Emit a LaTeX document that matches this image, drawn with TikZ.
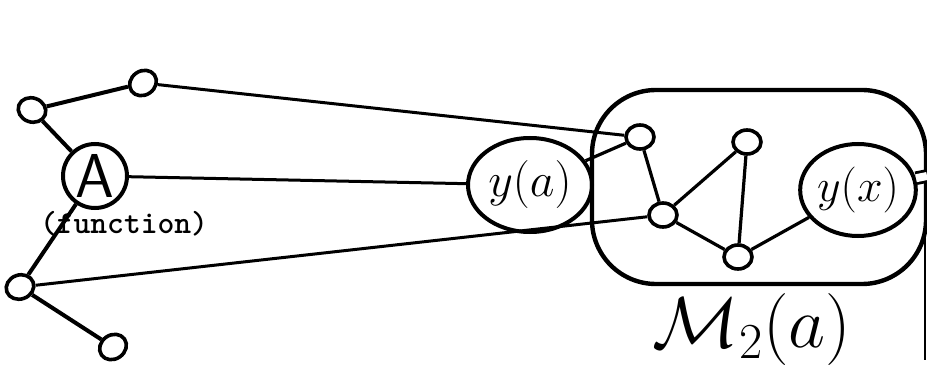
\RequirePackage{fix-cm}
\documentclass[tikz,border=0pt]{standalone}
\usepackage{tikz}
\usetikzlibrary{shapes.geometric}
\tikzset{
  vertex/.style={draw, ellipse, line width=1.8pt, minimum width=14pt, minimum height=12pt, inner sep=0pt},
  bubble/.style={draw, ellipse, line width=2pt, inner sep=0pt, font=\fontsize{24}{24}\selectfont},
  thickedge/.style={line width=2pt},
  longedge/.style={line width=1.5pt},
  inneredge/.style={line width=1.6pt}
}

\begin{document}
\begin{tikzpicture}[x=0.5pt, y=-0.5pt]
    \useasboundingbox (0,0) rectangle (927,369);
    % outer graph around the function node
    \node[vertex, rotate=-20] (n1) at (32,110) {};
    \node[vertex, rotate=35] (n2) at (143,83) {};
    \node[draw, circle, line width=2pt, minimum size=32pt, inner sep=0pt,
      font=\sffamily\fontsize{31}{31}\selectfont] (A) at (95,176) {A};
    \node[font=\ttfamily\bfseries\fontsize{16}{16}\selectfont] (fn) at (124,224) {(function)};
    \node[vertex, rotate=20] (n3) at (20,287) {};
    \node[vertex, rotate=35] (n4) at (113,347) {};
    \draw[thickedge] (n1) -- (n2);
    \draw[thickedge] (n1) -- (A);
    \draw[thickedge] (A) -- (n3);
    \draw[thickedge] (n3) -- (n4);

    % the bounded region
    \draw[line width=2.2pt, rounded corners=32pt] (592,90) rectangle (926,284);
    \node[bubble, minimum width=62pt, minimum height=47pt] (ya) at (530,185) {$y(a)$};
    \node[bubble, minimum width=56pt, minimum height=46pt, font=\fontsize{23}{23}\selectfont] (yx) at (858,190) {$y(x)$};
    \node[vertex] (m1) at (640,137) {};
    \node[vertex] (m2) at (663,215) {};
    \node[vertex] (m3) at (747,142) {};
    \node[vertex] (m4) at (738,257) {};
    \node[font=\fontsize{36}{36}\selectfont] (mlabel) at (752,330) {$\mathcal{M}_2(a)$};

    % long connections
    \draw[longedge] (n2) -- (m1);
    \draw[longedge] (A) -- (ya);
    \draw[longedge] (n3) -- (m2);

    % inside the region
    \draw[inneredge] (ya) -- (m1);
    \draw[inneredge] (m1) -- (m2);
    \draw[inneredge] (m2) -- (m3);
    \draw[inneredge] (m3) -- (m4);
    \draw[inneredge] (m2) -- (m4);
    \draw[inneredge] (m4) -- (yx);
    \coordinate (rim) at (927,176);
    \draw[line width=1.4pt, double, double distance=4pt] (yx) -- (rim);
    \coordinate (cutA) at (925,203);
    \coordinate (cutB) at (925,360);
    \draw[line width=0.6pt] (cutA) -- (cutB);
\end{tikzpicture}
\end{document}
